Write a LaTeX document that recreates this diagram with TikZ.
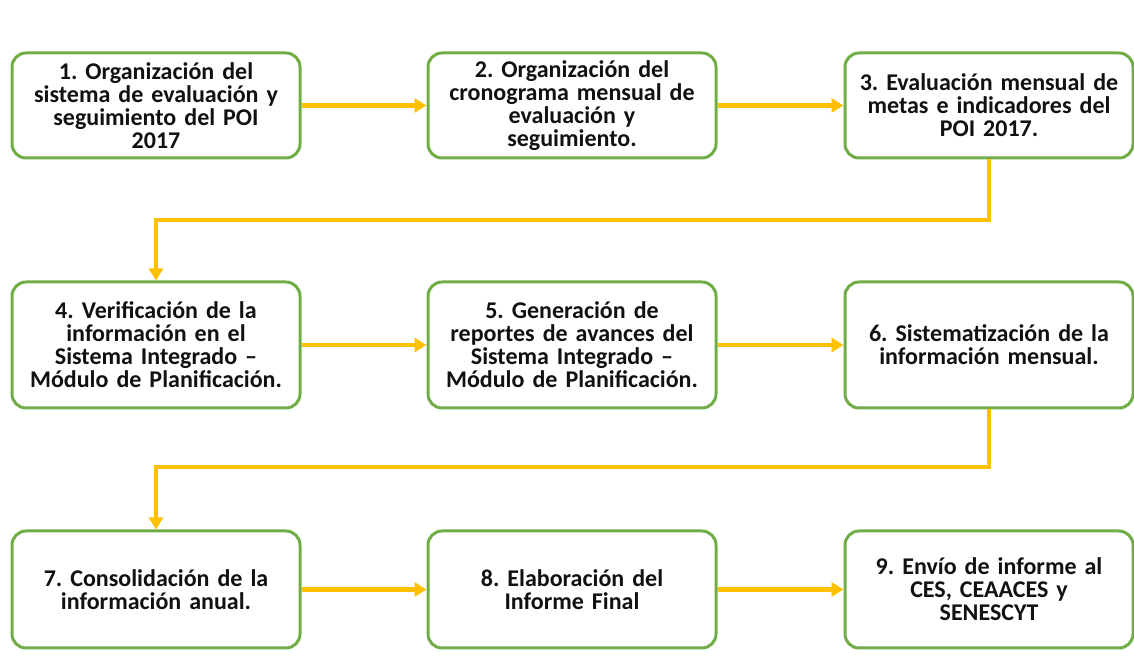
\documentclass[tikz,border=0pt]{standalone}
\usepackage{fontspec}
\setmainfont{Carlito}
\usetikzlibrary{arrows.meta}
\definecolor{boxgreen}{HTML}{70AD47}
\definecolor{arrowgold}{HTML}{FFC000}
\definecolor{txt}{HTML}{111111}
\frenchspacing
\begin{document}
\begin{tikzpicture}[x=1pt,y=1pt,
  stepbox/.style={draw=boxgreen, line width=3pt, rounded corners=14pt, fill=white,
    minimum width=288pt, text width=284pt, align=center, inner sep=0pt,
    font=\fontsize{24}{23}\selectfont\bfseries, text=txt},
  flow/.style={draw=arrowgold, line width=4.5pt, -{Triangle[length=12pt,width=14pt]}}]
\useasboundingbox (0,0) rectangle (1134,666);
% row 1
\node[stepbox, minimum height=105pt] (n1) at (156,560.5) {1. Organización del\\sistema de evaluación y\\seguimiento del POI\\2017};
\node[stepbox, minimum height=105pt] (n2) at (572,560.5) {2. Organización del\\cronograma mensual de\\evaluación y\\seguimiento.};
\node[stepbox, minimum height=105pt] (n3) at (989,560.5) {3. Evaluación mensual de\\metas e indicadores del\\POI 2017.};
% row 2
\node[stepbox, minimum height=126pt] (n4) at (156,321) {4. Verificación de la\\información en el\\Sistema Integrado –\\Módulo de Planificación.};
\node[stepbox, minimum height=126pt] (n5) at (572,321) {5. Generación de\\reportes de avances del\\Sistema Integrado –\\Módulo de Planificación.};
\node[stepbox, minimum height=126pt] (n6) at (989,321) {6. Sistematización de la\\información mensual.};
% row 3
\node[stepbox, minimum height=117pt] (n7) at (156,76.5) {7. Consolidación de la\\información anual.};
\node[stepbox, minimum height=117pt] (n8) at (572,76.5) {8. Elaboración del\\Informe Final};
\node[stepbox, minimum height=117pt] (n9) at (989,76.5) {9. Envío de informe al\\CES, CEAACES y\\SENESCYT};
% corner coordinates
\coordinate (c3a) at (989,446);
\coordinate (c3b) at (156,446);
\coordinate (c6a) at (989,199);
\coordinate (c6b) at (156,199);
% connectors
\draw[flow] (n1.east) -- (n2.west);
\draw[flow] (n2.east) -- (n3.west);
\draw[flow] (n4.east) -- (n5.west);
\draw[flow] (n5.east) -- (n6.west);
\draw[flow] (n7.east) -- (n8.west);
\draw[flow] (n8.east) -- (n9.west);
\draw[flow] (n3.south) -- (c3a) -- (c3b) -- (n4.north);
\draw[flow] (n6.south) -- (c6a) -- (c6b) -- (n7.north);
\end{tikzpicture}
\end{document}
